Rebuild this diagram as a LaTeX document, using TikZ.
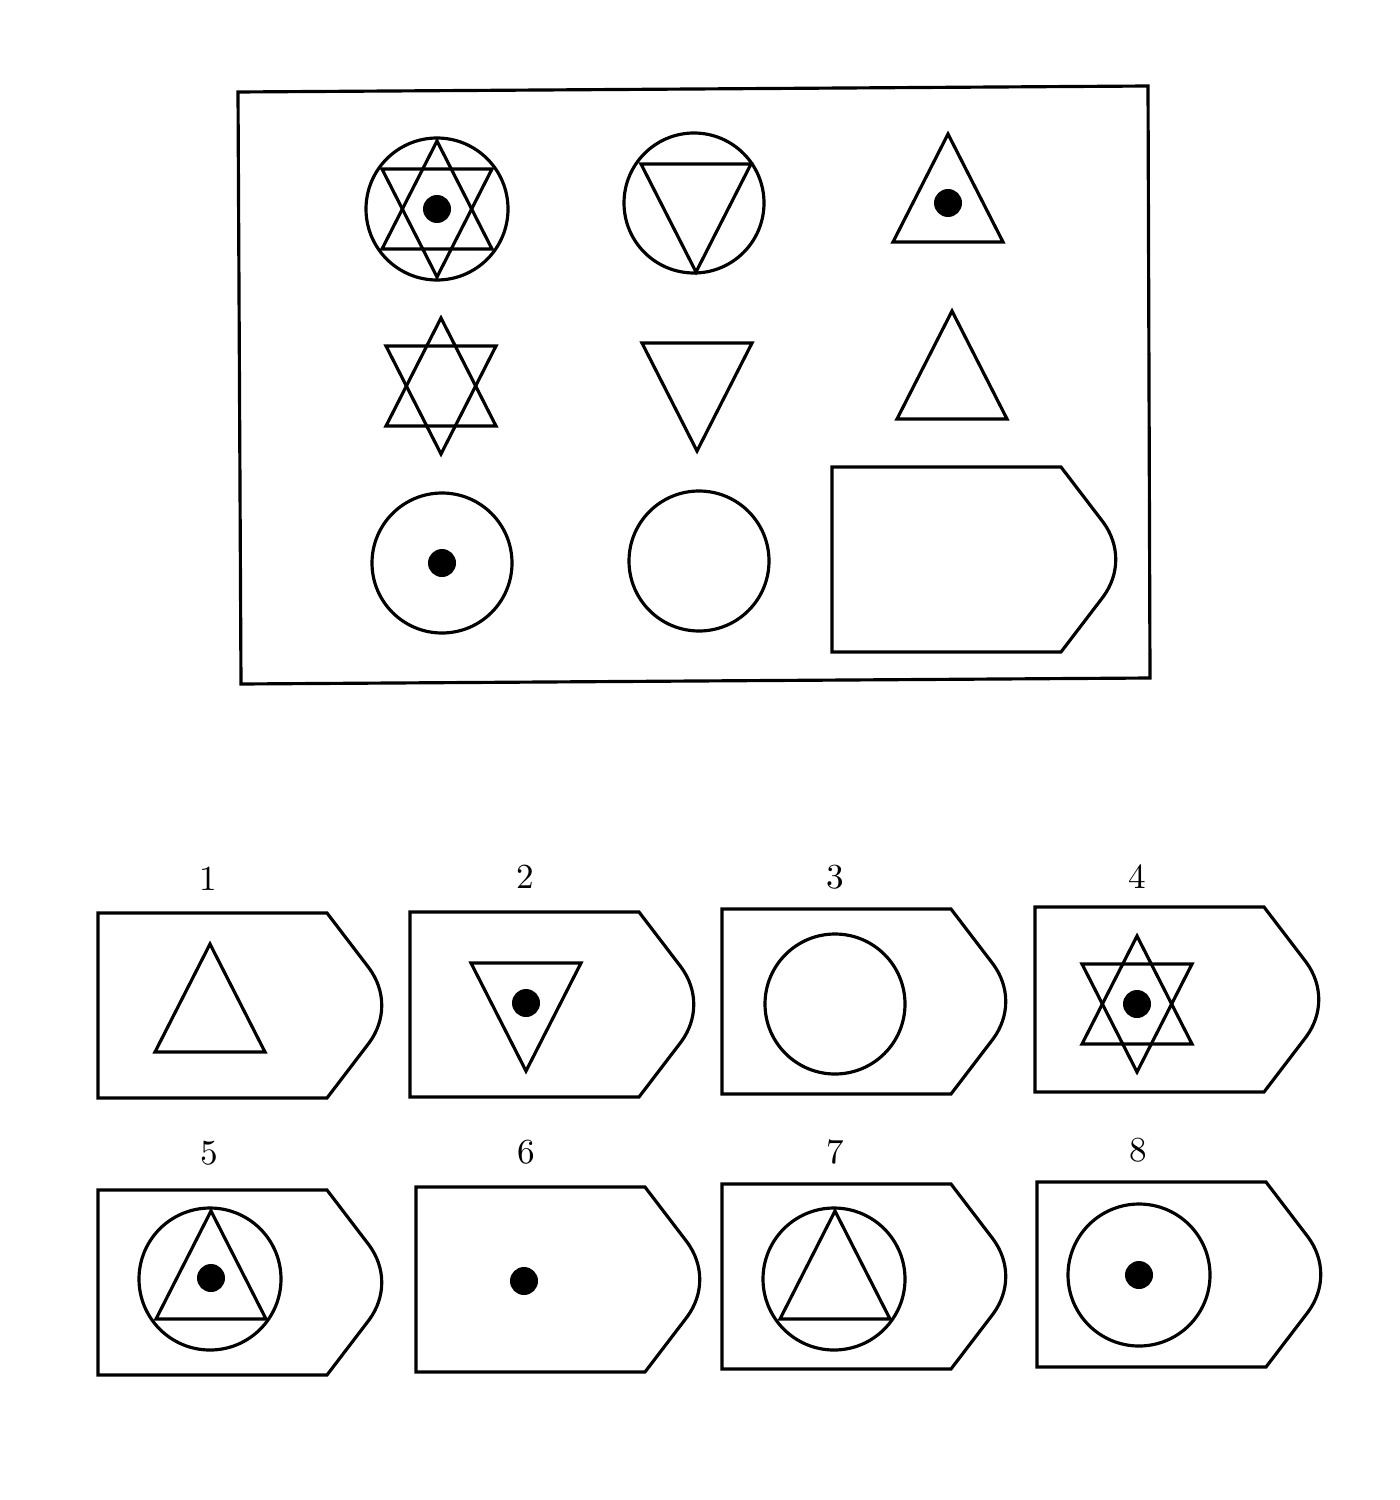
\documentclass[tikz,border=0pt]{standalone}
\begin{document}
\begin{tikzpicture}[
  x=0.01cm, y=-0.01cm,
  line width=0.9pt,
  lbl/.style={font=\fontsize{10}{12}\selectfont,inner sep=0pt},
  blackdot/.style={fill=black},
  tagframe/.pic={\draw (0,0) -- (229,0) -- (271,55) .. controls (288,78) and (288,107) .. (271,130)
                   -- (229,185) -- (0,185) -- cycle;},
  hexstar/.pic={\draw (0,-68) -- (55,40) -- (-55,40) -- cycle;
                \draw (0,68) -- (55,-40) -- (-55,-40) -- cycle;},
  uptri/.pic={\draw (0,-54) -- (55,54) -- (-55,54) -- cycle;},
  downtri/.pic={\draw (0,54) -- (55,-54) -- (-55,-54) -- cycle;},
]
  \useasboundingbox[fill=white] (0,0) rectangle (1400,1500);

  % Matrix frame
  \draw (238,92) -- (1148,86) -- (1150,678) -- (241,684) -- cycle;

  % Row 1
  \draw (437,209) circle (71);
  \pic at (437,209) {hexstar};
  \fill[blackdot] (437,209) circle (14);
  \draw (694,203) circle (70);
  \pic at (696,218) {downtri};
  \pic at (948,188) {uptri};
  \fill[blackdot] (948,203) circle (14);

  % Row 2
  \pic at (441,386) {hexstar};
  \pic at (697,397) {downtri};
  \pic at (952,365) {uptri};

  % Row 3
  \draw (442,563) circle (70);
  \fill[blackdot] (442,563) circle (14);
  \draw (699,561) circle (70);
  \pic at (832,467) {tagframe};

  % Answer choices, top row
  \node[lbl] (n1) at (208,879) {1};
  \pic at (98,913) {tagframe};
  \pic at (210,998) {uptri};

  \node[lbl] (n2) at (525,877) {2};
  \pic at (410,912) {tagframe};
  \pic at (526,1017) {downtri};
  \fill[blackdot] (526,1003) circle (14);

  \node[lbl] (n3) at (835,877) {3};
  \pic at (722,909) {tagframe};
  \draw (835,1004) circle (70);

  \node[lbl] (n4) at (1137,877) {4};
  \pic at (1035,907) {tagframe};
  \pic at (1137,1004) {hexstar};
  \fill[blackdot] (1137,1004) circle (14);

  % Answer choices, bottom row
  \node[lbl] (n5) at (209,1153) {5};
  \pic at (98,1190) {tagframe};
  \draw (210,1279) circle (71);
  \pic at (211,1265) {uptri};
  \fill[blackdot] (211,1278) circle (14);

  \node[lbl] (n6) at (526,1152) {6};
  \pic at (416,1187) {tagframe};
  \fill[blackdot] (524,1281) circle (14);

  \node[lbl] (n7) at (835,1152) {7};
  \pic at (722,1184) {tagframe};
  \draw (834,1279) circle (71);
  \pic at (835,1265) {uptri};

  \node[lbl] (n8) at (1138,1150) {8};
  \pic at (1037,1182) {tagframe};
  \draw (1139,1275) circle (71);
  \fill[blackdot] (1139,1275) circle (14);
\end{tikzpicture}
\end{document}
